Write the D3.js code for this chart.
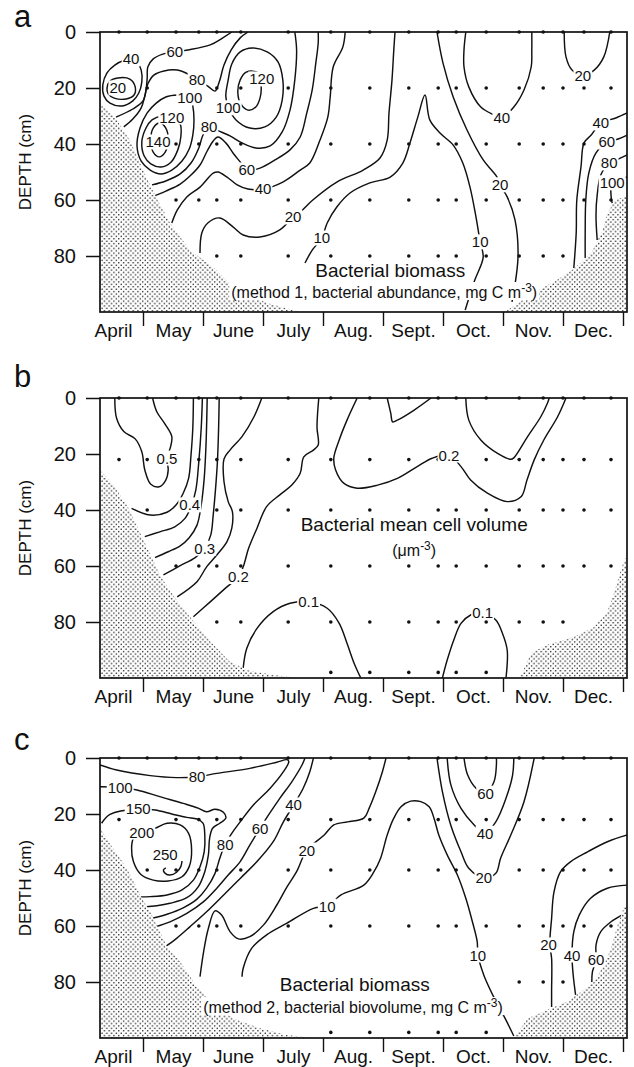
<!DOCTYPE html>
<html>
<head>
<meta charset="utf-8">
<script src="https://cdn.jsdelivr.net/npm/d3@7"></script>
<style>
body { margin: 0; background: #fff; }
svg text { font-family: "Liberation Sans", Arial, Helvetica, sans-serif; fill: #111; }
</style>
</head>
<body>
<div class="viz"></div>
<script>
// x is in months: 5 = 1 May, 13 = 1 Jan; depth in cm
var monthNames = ["April", "May", "June", "July", "Aug.", "Sept.", "Oct.", "Nov.", "Dec."];
var monthMids = [4.5, 5.5, 6.5, 7.5, 8.5, 9.5, 10.5, 11.5, 12.5];
var monthBounds = [5, 6, 7, 8, 9, 10, 11, 12, 13];
var depthTicks = [0, 20, 40, 60, 80];
var sampleDates = [4.60, 5.07, 5.55, 5.93, 6.23, 6.63, 7.42, 8.13, 8.78, 9.43, 9.92, 10.22, 10.72, 11.27, 11.67, 12.00, 12.35, 12.80];

var allCols = d3.range(18);
var dotRowsA = [
  [0, allCols],
  [20, [1,4,5,6,7,8,9,10,11,12,13,14,15,16,17]],
  [40, [2,3,4,5,6,7,8,9,10,11,12,13,14,15,16]],
  [60, [2,3,4,5,6,7,8,9,10,11,12,13,14,15,16,17]],
  [80, [4,5,6,7,8,9,10,11,12,13,14,15]]
];
var dotRowsB = [
  [0, allCols],
  [22, [0,1,2,3,4,5,6,7,8,9,10,12,13,14,15,16,17]],
  [40, [1,4,5,6,7,8,9,10,11,12,13,14,15,16,17]],
  [60, [2,3,4,5,6,7,8,9,10,11,12,13,14,15,16,17]],
  [80, [4,5,6,7,8,9,10,11,12,13,14,15]],
  [98, [7,8,9,10,11,12]]
];
var dotRowsC = [
  [0, allCols],
  [22, [0,2,3,4,5,6,7,8,9,10,11,12,13,14,15,16,17]],
  [40, [1,2,3,4,5,6,7,8,9,10,11,13,14,15,16,17]],
  [60, [2,3,4,5,6,7,8,9,10,11,12,13,14,15,16,17]],
  [80, [13,14,15]],
  [98, [7,8,9,10,11,12]]
];

// panel a: bacterial biomass, method 1
var contoursA = [
  {closed: true, pts: [[4.40,20],[4.45,17.5],[4.58,16.4],[4.78,16.8],[4.87,19.6],[4.85,22.5],[4.72,23.9],[4.52,23.6],[4.42,22.1]]},
  {closed: true, pts: [[4.70,10],[4.53,11.8],[4.40,14.6],[4.33,18.9],[4.35,22.9],[4.45,25.4],[4.65,26.4],[4.83,24.6],[4.93,21.8],[4.98,17.9],[4.97,13.6],[4.90,10.7],[4.80,9.6]]},
  {pts: [[6.48,0],[6.33,2.1],[6.12,4.6],[5.75,6.4],[5.53,7.1],[5.33,7.9],[5.17,9.6],[5.08,12.5],[5.07,16.4],[5.05,20.7],[5.00,24.6],[4.83,27.5],[4.55,30.4]]},
  {pts: [[4.68,33.9],[4.83,31.1],[4.97,27.1],[5.03,22.9],[5.08,18.6],[5.18,15.4],[5.35,13.9],[5.57,13.6],[5.75,15],[5.90,17.1],[6.08,19.3],[6.20,21.1],[6.27,17.9],[6.35,11.8],[6.47,6.4],[6.62,2.1],[6.75,0]]},
  {closed: true, pts: [[5.78,22.9],[5.58,22.5],[5.38,23.2],[5.22,25.4],[5.07,28.9],[4.95,34.3],[4.90,40.7],[4.97,46.1],[5.12,49.3],[5.30,50.7],[5.48,49.3],[5.65,46.1],[5.77,41.8],[5.83,36.8],[5.85,31.4],[5.83,26.4]]},
  {closed: true, pts: [[5.48,30.4],[5.32,30.0],[5.15,31.4],[5.05,34.3],[4.98,39.3],[5.02,44.3],[5.13,47.1],[5.30,48.2],[5.47,46.4],[5.58,42.1],[5.63,37.5],[5.62,32.9]]},
  {closed: true, pts: [[5.28,32.5],[5.17,34.3],[5.13,38.6],[5.17,42.9],[5.27,44.6],[5.37,42.9],[5.42,38.6],[5.38,34.3]]},
  {closed: true, pts: [[6.42,26.8],[6.55,31.4],[6.78,34.3],[7.03,33.9],[7.22,30.4],[7.32,24.3],[7.33,17.1],[7.25,10.7],[7.07,7.1],[6.82,5.7],[6.62,7.1],[6.48,11.4],[6.42,17.1],[6.38,22.9]]},
  {closed: true, pts: [[6.92,14.6],[6.72,14.3],[6.62,17.1],[6.58,21.4],[6.63,25.7],[6.75,27.9],[6.88,26.8],[6.95,23.6],[6.97,20]]},
  {pts: [[7.53,0],[7.56,6.4],[7.53,17.1],[7.45,27.9],[7.32,35.7],[7.12,40.7],[6.88,41.4],[6.65,39.6],[6.45,37.1],[6.27,35.4],[6.10,33.9],[6.00,36.8],[5.93,41.4],[5.80,46.8],[5.62,50.7],[5.38,53.2],[5.15,54.6]]},
  {pts: [[5.15,58.9],[5.38,56.8],[5.62,54.3],[5.80,51.1],[5.95,47.5],[6.07,42.5],[6.17,38.9],[6.25,37.5],[6.38,39.6],[6.50,43.2],[6.62,46.4],[6.73,49.3],[6.95,48.6],[7.20,45.7],[7.45,42.1],[7.62,37.5],[7.73,28.9],[7.82,20.7],[7.88,11.1],[7.92,3.9],[7.92,0]]},
  {pts: [[5.48,68.2],[5.57,63.6],[5.73,58.9],[5.95,55.4],[6.17,50.4],[6.25,50],[6.40,51.8],[6.57,54.6],[6.75,56.1],[7.00,56.1],[7.33,53.6],[7.62,49.3],[7.78,46.8],[7.95,38.6],[8.08,30.4],[8.12,23.2],[8.17,12.5],[8.33,5.4],[8.37,0]]},
  {pts: [[5.95,78.9],[5.98,71.8],[6.08,68.2],[6.28,66.4],[6.50,69.6],[6.67,72.5],[6.95,73.2],[7.28,70.7],[7.50,66.1],[7.62,64.3],[7.83,60],[8.23,53.6],[8.67,49.3],[8.95,45],[9.07,38.6],[9.10,28.9],[9.15,17.1],[9.18,6.4],[9.20,0]]},
  {pts: [[7.70,82.5],[7.82,77.9],[7.98,73.6],[8.07,68.2],[8.23,62.5],[8.45,57.5],[8.78,53.9],[9.12,51.8],[9.33,46.8],[9.45,39.6],[9.58,30.4],[9.70,22.5],[9.78,31.4],[9.95,36.1],[10.17,40.4],[10.33,46.8],[10.45,55.4],[10.55,66.1],[10.62,75],[10.67,80.4],[10.53,88.6],[10.37,99.3]]},
  {pts: [[9.90,0],[10.0,11.1],[10.17,23.2],[10.40,35],[10.67,45.7],[10.90,51.8],[10.95,54.6],[11.07,58.9],[11.20,67.1],[11.25,80.4],[11.15,96.4]]},
  {pts: [[10.38,0],[10.35,6.4],[10.35,12.5],[10.43,19.6],[10.63,26.8],[10.85,29.6],[10.98,30.7],[11.18,26.8],[11.35,20.7],[11.47,12.5],[11.48,6.4],[11.48,0]]},
  {pts: [[12.02,0],[12.05,8.9],[12.15,13.6],[12.33,15.4],[12.52,13.6],[12.68,8.9],[12.78,0]]},
  {pts: [[13.07,28.9],[12.88,30.7],[12.63,32.5],[12.47,36.8],[12.35,39.6],[12.30,48.2],[12.23,60],[12.22,71.8],[12.18,84.3]]},
  {pts: [[13.07,36.8],[12.92,38.2],[12.73,39.3],[12.55,43.2],[12.43,50.4],[12.38,60],[12.37,71.8],[12.37,80.7]]},
  {pts: [[13.07,43.9],[12.92,45.4],[12.77,46.8],[12.63,51.1],[12.57,58.2],[12.55,65.4],[12.57,74.3]]},
  {pts: [[13.07,51.8],[12.82,53.9],[12.80,58.2],[12.82,61.1]]}
];
var labelsA = [
  ["20",4.58,20],["40",4.80,9.6],["60",5.53,7.1],["80",5.90,17.1],["100",5.78,23.6],["120",5.48,30.4],
  ["140",5.25,39.3],["100",6.42,27.1],["120",6.98,16.8],["80",6.10,33.9],["60",6.73,49.3],["40",7.00,56.1],
  ["20",7.50,66.1],["10",7.98,73.6],["10",10.62,75],["20",10.95,54.6],["40",10.98,30.7],["20",12.33,15.4],
  ["40",12.63,32.5],["60",12.73,39.3],["80",12.77,46.8],["100",12.82,53.9]
];
var stippleA = [
  [[4.2833,25.7],[4.53,30.4],[4.78,38.6],[5.0,49.3],[5.2,58.2],[5.45,68.2],[5.78,77.9],[6.17,83.9],[6.5,91.1],[7.07,96.8],[7.62,100],[4.2833,100]],
  [[11.03,100],[11.45,93.9],[11.87,88.9],[12.2,84.3],[12.48,78.6],[12.65,71.4],[12.75,64.3],[12.87,60],[13.0667,58.6],[13.0667,100]]
];

// panel b: mean cell volume
var contoursB = [
  {pts: [[4.53,0],[4.56,7.25],[4.68,12.0],[4.87,14.6],[4.98,19.2],[5.03,25.7],[5.13,30.8],[5.27,31.7],[5.38,29.3],[5.42,25.7],[5.40,21.5],[5.46,17.4],[5.48,13.8],[5.37,9.4],[5.23,4.9],[5.16,0]]},
  {pts: [[4.81,39.4],[5.12,41.8],[5.40,40.8],[5.55,38.2],[5.67,34.0],[5.76,28.7],[5.80,20.4],[5.83,10.8],[5.84,0]]},
  {pts: [[5.03,49.5],[5.28,47.8],[5.53,46.0],[5.70,43.0],[5.80,38.8],[5.88,32.9],[5.93,22.8],[5.97,10.8],[5.99,0]]},
  {pts: [[5.20,57.0],[5.42,54.9],[5.62,52.8],[5.77,49.9],[5.90,45.4],[5.97,38.2],[6.02,28.7],[6.05,16.8],[6.07,0]]},
  {pts: [[5.34,63.2],[5.62,59.9],[5.87,57.0],[6.03,53.7],[6.13,48.9],[6.17,41.8],[6.21,32.2],[6.24,22.8],[6.26,10.8],[6.27,0]]},
  {pts: [[5.57,71.0],[5.90,65.6],[6.06,60.3],[6.23,56.1],[6.40,51.3],[6.48,46.5],[6.49,40.6],[6.42,37.0],[6.35,29.9],[6.35,21.8],[6.45,18.6],[6.65,13.8],[6.85,6.7],[6.98,0]]},
  {pts: [[5.84,78.1],[6.12,72.8],[6.37,68.0],[6.59,63.8],[6.67,60.3],[6.76,53.7],[6.90,46.5],[7.06,38.8],[7.28,34.6],[7.48,31.1],[7.62,26.9],[7.68,21.0],[7.84,18.6],[7.92,16.8],[7.90,10.4],[7.93,0]]},
  {pts: [[8.57,0],[8.40,7.9],[8.27,15],[8.18,21.5],[8.21,25.7],[8.35,30.5],[8.57,32.2],[8.91,31.1],[9.24,28.7],[9.57,24.5],[9.82,21.5],[10.10,20.4],[10.30,24.5],[10.46,29.3],[10.74,34.0],[11.07,37.0],[11.30,35.3],[11.40,29.3],[11.52,22.1],[11.68,15],[11.91,6.7],[12.05,0]]},
  {pts: [[10.38,0],[10.43,7.9],[10.63,15],[10.91,19.8],[11.13,21.9],[11.18,21.4],[11.41,13.8],[11.63,6.7],[11.74,1.9],[11.77,0]]},
  {pts: [[9.07,0],[9.13,5.5],[9.16,8.5],[9.24,7.9],[9.52,4.3],[9.80,0]]},
  {pts: [[6.67,96.4],[6.73,89.4],[6.90,82.3],[7.17,76.3],[7.45,73.3],[7.76,72.8],[8.07,75.1],[8.27,80.5],[8.40,87.6],[8.52,94.8],[8.63,100]]},
  {pts: [[9.99,100],[10.07,93.6],[10.18,86.4],[10.30,80.5],[10.46,77.5],[10.66,76.5],[10.88,79.3],[10.99,84.0],[11.07,90.0],[11.05,100]]}
];
var labelsB = [
  ["0.5",5.40,21.5],["0.4",5.78,38.2],["0.3",6.03,53.7],["0.2",6.59,63.8],["0.1",7.76,72.8],["0.2",10.10,20.4],["0.1",10.66,76.5]
];
var stippleB = [
  [[4.2833,25.7],[4.51,31.1],[4.76,39.4],[4.98,49.5],[5.15,57.0],[5.28,63.2],[5.52,71.0],[5.78,78.1],[6.12,87.0],[6.45,94.2],[6.78,97.5],[7.28,99.2],[7.62,100],[4.2833,100]],
  [[11.28,100],[11.47,91.1],[11.73,88.2],[12.18,85.4],[12.52,81.8],[12.73,76.8],[12.85,69.6],[12.93,63.9],[13.02,57.9],[13.0667,56.8],[13.0667,100]]
];

// panel c: bacterial biomass, method 2
var contoursC = [
  {pts: [[4.2833,2.5],[4.56,4.3],[5.12,6.3],[5.56,7.0],[5.90,6.7],[6.23,5.5],[6.78,3.7],[7.23,1.5],[7.40,0.6],[7.43,1.3],[7.34,4.9],[7.12,10.8],[6.84,16.8],[6.62,22.8],[6.48,26.9],[6.37,30.8],[6.28,35.8],[6.20,41.2],[6.06,46.5],[5.90,50.4],[5.67,53.5],[5.40,55.8],[5.14,57.3]]},
  {pts: [[7.70,0],[7.65,2.5],[7.48,8.5],[7.28,14.4],[7.09,20.4],[6.95,25.1],[6.78,31.1],[6.62,37.0],[6.42,41.8],[6.23,46.5],[6.01,51.3],[5.73,55.5],[5.45,58.5],[5.20,60.3]]},
  {pts: [[7.84,0],[7.78,4.9],[7.67,10.8],[7.51,16.8],[7.34,22.8],[7.17,29.9],[6.90,37.0],[6.62,43.0],[6.34,49.0],[6.06,54.9],[5.78,60.3],[5.56,64.4],[5.37,67.4]]},
  {pts: [[4.31,23.3],[4.45,20.1],[4.92,18.2],[5.20,18.6],[5.48,20.0],[5.73,21.2],[5.90,21.8],[6.00,23.3],[6.03,27.5],[6.02,33.5],[5.95,38.8],[5.84,43.6],[5.65,47.1],[5.40,48.9],[5.12,49.5],[4.95,49.6]]},
  {pts: [[4.2833,10.3],[4.62,10.5],[4.90,11.4],[5.28,13.8],[5.67,16.2],[5.92,17.9],[6.06,19.2],[6.20,18.3],[6.34,19.4],[6.38,21.5],[6.28,23.3],[6.16,25.1],[6.11,28.7],[6.09,34.6],[6.03,40.6],[5.92,46.0],[5.73,49.9],[5.45,51.9],[5.23,52.8],[5.03,53.2]]},
  {closed: true, pts: [[4.98,26.5],[5.20,25.1],[5.40,23.3],[5.62,23.9],[5.76,26.9],[5.81,32.9],[5.77,38.8],[5.65,42.4],[5.42,43.9],[5.17,43.6],[4.96,41.5],[4.84,37.0],[4.81,32.2],[4.84,28.7]]},
  {pts: [[5.65,36.8],[5.63,38.8],[5.56,40.8],[5.45,41.8],[5.37,41.2],[5.34,40.0],[5.38,39.2]]},
  {pts: [[5.95,78.1],[6.01,69.2],[6.09,60.8],[6.20,54.6],[6.31,56.1],[6.45,62.0],[6.59,64.6],[6.78,63.8],[7.01,59.6],[7.23,52.5],[7.40,46.0],[7.56,40.6],[7.73,32.9],[8.02,27.5],[8.18,23.9],[8.41,22.8],[8.68,21.5],[8.77,17.9],[8.88,12.0],[8.99,4.9],[9.05,0]]},
  {pts: [[6.65,78.1],[6.67,75.1],[6.81,68.0],[7.06,63.2],[7.40,59.0],[7.84,53.7],[8.07,52.9],[8.30,48.9],[8.68,45.4],[8.85,40.6],[8.96,35.8],[9.07,27.5],[9.18,21.5],[9.30,17.4],[9.46,15.4],[9.63,15.6],[9.77,17.4],[9.85,21.5],[9.93,27.5],[10.07,34.6],[10.24,41.8],[10.38,50.1],[10.49,58.5],[10.57,65.6],[10.58,70.4],[10.66,76.3],[10.69,78.1],[10.87,86.4],[11.05,93.6],[11.18,99.3]]},
  {pts: [[9.90,0],[9.99,12.0],[10.13,24.0],[10.30,33.5],[10.43,39.4],[10.68,42.8],[10.88,41.2],[10.96,35.8],[11.13,27.5],[11.35,15.6],[11.52,0]]},
  {pts: [[10.07,0],[10.13,9.5],[10.30,18.0],[10.52,23.9],[10.70,26.9],[10.88,22.8],[11.05,14.4],[11.16,6.1],[11.18,0]]},
  {pts: [[10.35,0],[10.41,6.0],[10.55,10.8],[10.71,12.6],[10.85,8.5],[10.89,2.5],[10.89,0]]},
  {pts: [[13.07,27.5],[12.74,29.9],[12.41,33.5],[12.13,37.0],[11.96,40.6],[11.85,47.8],[11.81,57.3],[11.78,66.8],[11.81,71.5],[11.81,83.5],[11.81,88.9]]},
  {pts: [[13.07,45.4],[12.74,46.5],[12.46,50.1],[12.27,56.1],[12.18,62.0],[12.15,70.4],[12.17,77.5],[12.21,84.6]]},
  {pts: [[12.98,56.1],[12.80,58.5],[12.63,62.0],[12.55,66.8],[12.55,72.1],[12.49,76.4],[12.48,80.0]]}
];
var labelsC = [
  ["80",5.90,6.7],["100",4.62,10.5],["150",4.92,18.2],["200",4.98,26.5],["250",5.37,34.4],["80",6.37,30.8],
  ["60",6.95,25.1],["40",7.51,16.8],["20",7.73,32.9],["10",8.07,52.9],["10",10.58,70.4],["60",10.71,12.6],
  ["40",10.70,26.9],["20",10.68,42.8],["20",11.76,66.8],["40",12.15,70.4],["60",12.55,72.1]
];
var stippleC = [
  [[4.2833,25.1],[4.50,32.2],[4.73,39.4],[4.90,46.5],[4.98,50.1],[5.12,54.9],[5.28,62.0],[5.40,67.4],[5.62,72.8],[5.84,79.9],[6.12,87.0],[6.50,93.0],[6.95,96.5],[7.39,98.9],[7.89,100],[4.2833,100]],
  [[11.18,100],[11.41,93.0],[11.74,90.0],[12.07,87.0],[12.30,83.5],[12.52,79.9],[12.68,73.9],[12.80,68.0],[12.91,59.6],[13.02,53.1],[13.0667,52.5],[13.0667,100]]
];

var width = 634, height = 1067;
var plotH = 280;

var svg = d3.select(".viz")
  .append("svg")
    .attr("width", width)
    .attr("height", height);

var defs = svg.append("defs");
var pat = defs.append("pattern")
    .attr("id", "stipple")
    .attr("patternUnits", "userSpaceOnUse")
    .attr("width", 4.8)
    .attr("height", 4.8);
pat.append("circle").attr("cx", 1.2).attr("cy", 1.2).attr("r", 0.75).attr("fill", "#000");
pat.append("circle").attr("cx", 3.6).attr("cy", 3.6).attr("r", 0.75).attr("fill", "#000");

var x = d3.scaleLinear()
  .domain([4.2833, 13.0667])
  .range([100, 627]);

var panels = [
  {letter: "a", top: 32, letterY: 27, contours: contoursA, labels: labelsA, stipple: stippleA, dots: dotRowsA,
   title: "Bacterial biomass", titleAt: [9.12, 87.5], sub: "(method 1, bacterial abundance, mg C m", subAt: [9.02, 95]},
  {letter: "b", top: 398, letterY: 387, contours: contoursB, labels: labelsB, stipple: stippleB, dots: dotRowsB,
   title: "Bacterial mean cell volume", titleAt: [9.52, 47.5], sub: "(\u03bcm", subAt: [9.52, 56.4]},
  {letter: "c", top: 758, letterY: 750, contours: contoursC, labels: labelsC, stipple: stippleC, dots: dotRowsC,
   title: "Bacterial biomass", titleAt: [8.53, 83.2], sub: "(method 2, bacterial biovolume, mg C m", subAt: [8.50, 91.1]}
];

panels.forEach(drawPanel);

// put a white box behind a text so the lines under it are broken
function boxBehind(sel, pad) {
  sel.each(function() {
    var b = this.getBBox();
    d3.select(this.parentNode).insert("rect", () => this)
        .attr("x", b.x - pad)
        .attr("y", b.y + 1)
        .attr("width", b.width + 2 * pad)
        .attr("height", b.height - 2)
        .attr("fill", "#fff");
  });
}

function drawPanel(p) {
  var y = d3.scaleLinear()
    .domain([0, 100])
    .range([p.top, p.top + plotH]);

  var g = svg.append("g").attr("class", "panel-" + p.letter);

  defs.append("clipPath")
      .attr("id", "clip-" + p.letter)
    .append("rect")
      .attr("x", x.range()[0])
      .attr("y", p.top)
      .attr("width", x.range()[1] - x.range()[0])
      .attr("height", plotH);

  var openLine = d3.line()
    .x(d => x(d[0]))
    .y(d => y(d[1]))
    .curve(d3.curveCatmullRom.alpha(0.5));
  var ringLine = d3.line()
    .x(d => x(d[0]))
    .y(d => y(d[1]))
    .curve(d3.curveCatmullRomClosed.alpha(0.5));

  // contour lines
  g.append("g")
      .attr("clip-path", "url(#clip-" + p.letter + ")")
    .selectAll("path")
    .data(p.contours)
    .join("path")
      .attr("d", c => c.closed ? ringLine(c.pts) : openLine(c.pts))
      .attr("fill", "none")
      .attr("stroke", "#111")
      .attr("stroke-width", 1.45)
      .attr("stroke-linejoin", "round");

  // stippled areas without data
  var area = d3.line().x(d => x(d[0])).y(d => y(d[1]));
  g.append("g").selectAll("path")
    .data(p.stipple)
    .join("path")
      .attr("d", s => area(s) + "Z")
      .attr("fill", "#fff");
  g.append("g").selectAll("path")
    .data(p.stipple)
    .join("path")
      .attr("d", s => area(s) + "Z")
      .attr("fill", "url(#stipple)");

  // sampling points
  var pts = [];
  p.dots.forEach(row => row[1].forEach(c => pts.push([sampleDates[c], row[0]])));
  g.append("g").selectAll("circle")
    .data(pts)
    .join("circle")
      .attr("cx", d => x(d[0]))
      .attr("cy", d => y(d[1]))
      .attr("r", 1.8)
      .attr("fill", "#111");

  // frame
  g.append("rect")
      .attr("x", x.range()[0])
      .attr("y", p.top)
      .attr("width", x.range()[1] - x.range()[0])
      .attr("height", plotH)
      .attr("fill", "none")
      .attr("stroke", "#111")
      .attr("stroke-width", 1.7);

  // y axis
  var yAxis = g.append("g")
      .attr("transform", "translate(" + x.range()[0] + ",0)")
      .call(d3.axisLeft(y).tickValues(depthTicks).tickSize(14).tickPadding(10).tickSizeOuter(0));
  yAxis.select(".domain").remove();
  yAxis.selectAll("line").attr("stroke", "#111").attr("stroke-width", 1.5);
  yAxis.selectAll("text").style("font-size", "20px").attr("fill", "#111");

  // month boundary ticks
  var xTicks = g.append("g")
      .attr("transform", "translate(0," + (p.top + plotH) + ")")
      .call(d3.axisBottom(x).tickValues(monthBounds).tickSize(14).tickFormat(() => "").tickSizeOuter(0));
  xTicks.select(".domain").remove();
  xTicks.selectAll("line").attr("stroke", "#111").attr("stroke-width", 1.4);

  // month names
  var xLabels = g.append("g")
      .attr("transform", "translate(0," + (p.top + plotH) + ")")
      .call(d3.axisBottom(x).tickValues(monthMids).tickSize(0).tickPadding(12)
        .tickFormat((d, i) => monthNames[i]));
  xLabels.select(".domain").remove();
  xLabels.selectAll("text").style("font-size", "19px").attr("fill", "#111");

  // axis title
  g.append("text")
      .attr("transform", "translate(25," + (p.top + 130) + ") rotate(-90)")
      .attr("text-anchor", "middle")
      .attr("dy", "0.35em")
      .style("font-size", "17px")
      .text("DEPTH (cm)");

  // panel letter
  g.append("text")
      .attr("x", 14)
      .attr("y", p.letterY)
      .style("font-size", "31px")
      .text(p.letter);

  // contour labels
  var labs = g.append("g").selectAll("text")
    .data(p.labels)
    .join("text")
      .attr("x", d => x(d[1]))
      .attr("y", d => y(d[2]))
      .attr("dy", "0.36em")
      .attr("text-anchor", "middle")
      .style("font-size", "15px")
      .text(d => d[0]);
  boxBehind(labs, 1);

  // panel titles
  var titles = g.append("g");
  titles.append("text")
      .attr("x", x(p.titleAt[0]))
      .attr("y", y(p.titleAt[1]))
      .attr("text-anchor", "middle")
      .style("font-size", "19px")
      .text(p.title);

  var sub = titles.append("text")
      .attr("x", x(p.subAt[0]))
      .attr("y", y(p.subAt[1]))
      .attr("text-anchor", "middle")
      .style("font-size", "16px");
  sub.append("tspan").text(p.sub);
  sub.append("tspan").attr("dy", -6).style("font-size", "12px").text("-3");
  sub.append("tspan").attr("dy", 6).text(")");
  boxBehind(titles.selectAll("text"), 2);
}
</script>
</body>
</html>
